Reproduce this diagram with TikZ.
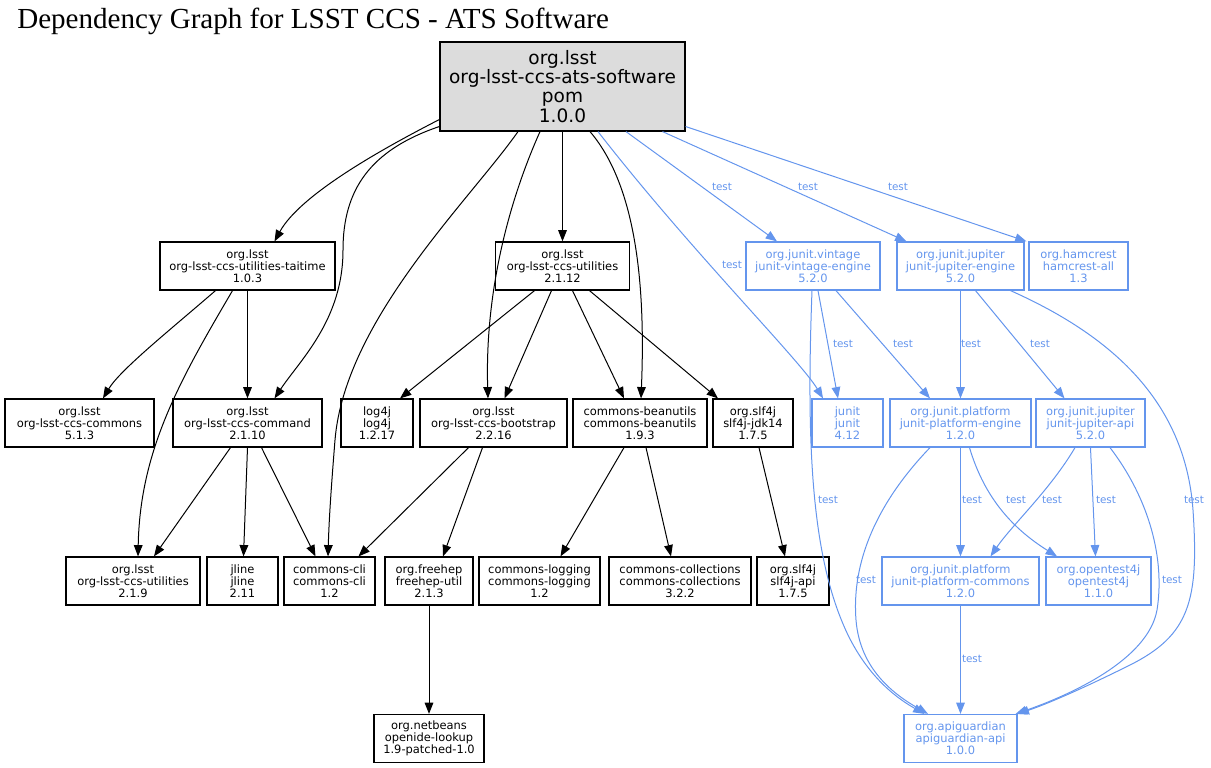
\documentclass[tikz,border=0pt]{standalone}
\usepackage{fontspec}
\setmainfont{DejaVu Sans}
\newfontfamily\titlefont{Liberation Serif}
\usetikzlibrary{arrows.meta,calc}
\definecolor{tblue}{HTML}{6495ED}
\definecolor{rootgray}{HTML}{DCDCDC}
\begin{document}
\begin{tikzpicture}[x=0.75pt,y=-0.75pt,
  box/.style={draw,line width=0.9pt,inner sep=0pt,align=center,
    font=\fontsize{8.6}{9}\selectfont,minimum height=36pt},
  bw/.style={minimum width=#1*0.75pt},
  tbox/.style={box,draw=tblue,text=tblue},
  dep/.style={line width=0.75pt,-{Triangle[length=8.5pt,width=6.5pt]}},
  tdep/.style={dep,draw=tblue},
  lbl/.style={text=tblue,inner sep=0pt,font=\fontsize{7.8}{8}\selectfont}]
\useasboundingbox (0,0) rectangle (1211,768);
\node[anchor=west,inner sep=0pt,font=\titlefont\fontsize{21.8}{24}\selectfont] (title) at (17,21) {Dependency Graph for LSST CCS - ATS Software};
% root
\node[box,fill=rootgray,font=\fontsize{13.9}{14.3}\selectfont,bw=245,minimum height=89*0.75pt] (root) at (562.5,86.5) {org.lsst\\org-lsst-ccs-ats-software\\pom\\1.0.0};
% row 1
\node[box,bw=175] (taitime) at (247.5,266) {org.lsst\\org-lsst-ccs-utilities-taitime\\1.0.3};
\node[box,bw=134] (util12) at (562.5,266) {org.lsst\\org-lsst-ccs-utilities\\2.1.12};
\node[tbox,bw=134] (vintage) at (813,266) {org.junit.vintage\\junit-vintage-engine\\5.2.0};
\node[tbox,bw=127] (jengine) at (960.5,266) {org.junit.jupiter\\junit-jupiter-engine\\5.2.0};
\node[tbox,bw=99] (hamcrest) at (1078.5,266) {org.hamcrest\\hamcrest-all\\1.3};
% row 2
\node[box,bw=149] (commons) at (79.5,423) {org.lsst\\org-lsst-ccs-commons\\5.1.3};
\node[box,bw=149] (command) at (247.5,423) {org.lsst\\org-lsst-ccs-command\\2.1.10};
\node[box,bw=72] (log4j) at (377,423) {log4j\\log4j\\1.2.17};
\node[box,bw=147] (bootstrap) at (493.5,423) {org.lsst\\org-lsst-ccs-bootstrap\\2.2.16};
\node[box,bw=134] (beanutils) at (640,423) {commons-beanutils\\commons-beanutils\\1.9.3};
\node[box,bw=80] (jdk14) at (753,423) {org.slf4j\\slf4j-jdk14\\1.7.5};
\node[tbox,bw=71] (junit) at (847.5,423) {junit\\junit\\4.12};
\node[tbox,bw=141] (pengine) at (960.5,423) {org.junit.platform\\junit-platform-engine\\1.2.0};
\node[tbox,bw=109] (japi) at (1090.5,423) {org.junit.jupiter\\junit-jupiter-api\\5.2.0};
% row 3
\node[box,bw=134] (util219) at (133,581) {org.lsst\\org-lsst-ccs-utilities\\2.1.9};
\node[box,bw=71] (jline) at (242.5,581) {jline\\jline\\2.11};
\node[box,bw=91] (cli) at (329.5,581) {commons-cli\\commons-cli\\1.2};
\node[box,bw=88] (freehep) at (429,581) {org.freehep\\freehep-util\\2.1.3};
\node[box,bw=121] (logging) at (539.5,581) {commons-logging\\commons-logging\\1.2};
\node[box,bw=142] (collections) at (680,581) {commons-collections\\commons-collections\\3.2.2};
\node[box,bw=72] (slf4japi) at (793,581) {org.slf4j\\slf4j-api\\1.7.5};
\node[tbox,bw=157] (pcommons) at (960.5,581) {org.junit.platform\\junit-platform-commons\\1.2.0};
\node[tbox,bw=105] (opentest) at (1098.5,581) {org.opentest4j\\opentest4j\\1.1.0};
% row 4
\node[box,bw=110] (netbeans) at (429,738.5) {org.netbeans\\openide-lookup\\1.9-patched-1.0};
\node[tbox,bw=113] (apig) at (960.5,738.5) {org.apiguardian\\apiguardian-api\\1.0.0};
% black edges
\draw[dep] ($(root.west)+(0,33)$) .. controls (380,150) and (300,195) .. ($(taitime.north)+(27,0)$);
\draw[dep] ($(root.west)+(0,40)$) .. controls (370,150) and (343,190) .. (343,250) .. controls (343,320) and (300,360) .. ($(command.north)+(27,0)$);
\draw[dep] ($(root.south)+(-44.5,0)$) .. controls (470,200) and (345,320) .. (335,440) .. controls (331,490) and (329,520) .. ($(cli.north)+(-1.5,0)$);
\draw[dep] ($(root.south)+(-22.5,0)$) .. controls (505,210) and (485,300) .. ($(bootstrap.north)+(-5.5,0)$);
\draw[dep] (root.south) -- (util12.north);
\draw[dep] ($(root.south)+(27.5,0)$) .. controls (640,190) and (645,300) .. ($(beanutils.north)+(1,0)$);
\draw[dep] ($(taitime.south)+(-32,0)$) .. controls (170,330) and (120,370) .. ($(commons.north)+(23.5,0)$);
\draw[dep] (taitime.south) -- (command.north);
\draw[dep] ($(taitime.south)+(-15,0)$) .. controls (180,380) and (140,450) .. ($(util219.north)+(5,0)$);
\draw[dep] ($(util12.south)+(-28,0)$) -- ($(log4j.north)+(23,0)$);
\draw[dep] ($(util12.south)+(-11,0)$) -- ($(bootstrap.north)+(11,0)$);
\draw[dep] ($(util12.south)+(10,0)$) -- ($(beanutils.north)+(-16,0)$);
\draw[dep] ($(util12.south)+(27,0)$) -- ($(jdk14.north)+(-35,0)$);
\draw[dep] ($(command.south)+(-17,0)$) -- ($(util219.north)+(21,0)$);
\draw[dep] (command.south) -- ($(jline.north)+(1,0)$);
\draw[dep] ($(command.south)+(14,0)$) -- ($(cli.north)+(-14,0)$);
\draw[dep] ($(bootstrap.south)+(-25,0)$) -- ($(cli.north)+(29,0)$);
\draw[dep] ($(bootstrap.south)+(-11,0)$) -- ($(freehep.north)+(14,0)$);
\draw[dep] ($(beanutils.south)+(-16,0)$) -- ($(logging.north)+(21,0)$);
\draw[dep] ($(beanutils.south)+(6,0)$) -- ($(collections.north)+(-9,0)$);
\draw[dep] ($(jdk14.south)+(6,0)$) -- ($(slf4japi.north)+(-8,0)$);
\draw[dep] (freehep.south) -- (netbeans.north);
% blue edges
\draw[tdep] ($(root.south)+(63.5,0)$) -- ($(vintage.north)+(-36,0)$);
\draw[tdep] ($(root.south)+(100,0)$) -- ($(jengine.north)+(-54,0)$);
\draw[tdep] ($(root.east)+(0,40)$) -- ($(hamcrest.north)+(-52,0)$);
\draw[tdep] ($(root.south)+(35.5,0)$) .. controls (690,250) and (800,360) .. ($(junit.north)+(-24.5,0)$);
\draw[tdep] ($(vintage.south)+(5,0)$) -- ($(junit.north)+(-9.5,0)$);
\draw[tdep] ($(vintage.south)+(23,0)$) -- ($(pengine.north)+(-30.5,0)$);
\draw[tdep] ($(vintage.south)+(-1,0)$) .. controls (806,450) and (812,560) .. (848,635) .. controls (870,680) and (900,700) .. ($(apig.north)+(-36,0)$);
\draw[tdep] (jengine.south) -- (pengine.north);
\draw[tdep] ($(jengine.south)+(15,0)$) -- ($(japi.north)+(-26,0)$);
\draw[tdep] ($(jengine.south)+(50,0)$) .. controls (1110,335) and (1185,400) .. (1193,510) .. controls (1199,600) and (1190,635) .. (1130,665) .. controls (1090,685) and (1050,703) .. (apig.north east);
\draw[tdep] (pengine.south) -- (pcommons.north);
\draw[tdep] ($(pengine.south)+(9,0)$) .. controls (985,500) and (1015,530) .. ($(opentest.north)+(-41.5,0)$);
\draw[tdep] ($(pengine.south)+(-30.5,0)$) .. controls (870,510) and (852,570) .. (856,620) .. controls (860,670) and (895,695) .. ($(apig.north)+(-32.5,0)$);
\draw[tdep] ($(japi.south)+(-15.5,0)$) .. controls (1050,490) and (1012,525) .. ($(pcommons.north)+(30,0)$);
\draw[tdep] (japi.south) -- ($(opentest.north)+(-3,0)$);
\draw[tdep] ($(japi.south)+(19.5,0)$) .. controls (1150,500) and (1165,560) .. (1157,610) .. controls (1148,660) and (1070,695) .. ($(apig.north east)+(-2,0)$);
\draw[tdep] (pcommons.south) -- (apig.north);
% labels
\node[lbl] (t1) at (722,187) {test};
\node[lbl] (t2) at (808,187) {test};
\node[lbl] (t3) at (898,187) {test};
\node[lbl] (t4) at (732,265) {test};
\node[lbl] (t5) at (843,344) {test};
\node[lbl] (t6) at (903,344) {test};
\node[lbl] (t7) at (971,344) {test};
\node[lbl] (t8) at (1040,344) {test};
\node[lbl] (t9) at (828,500) {test};
\node[lbl] (t10) at (972,500) {test};
\node[lbl] (t11) at (1016,500) {test};
\node[lbl] (t12) at (1052,500) {test};
\node[lbl] (t13) at (1106,500) {test};
\node[lbl] (t14) at (1194,500) {test};
\node[lbl] (t15) at (866,580) {test};
\node[lbl] (t16) at (1172,580) {test};
\node[lbl] (t17) at (972,659) {test};
\end{tikzpicture}
\end{document}
